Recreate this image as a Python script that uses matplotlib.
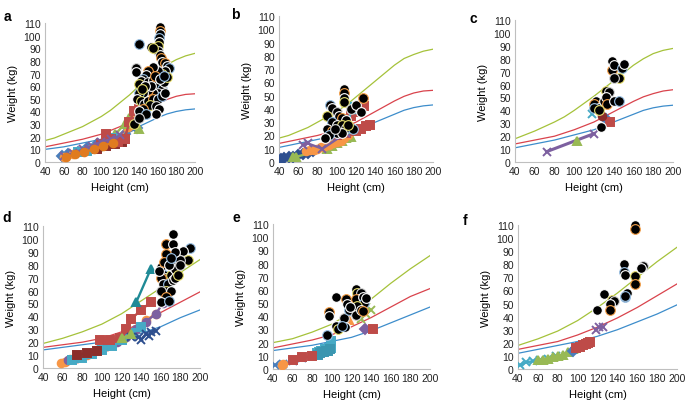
import matplotlib
matplotlib.use('Agg')
import matplotlib.pyplot as plt

plt.rcParams['font.family'] = ['Liberation Sans', 'DejaVu Sans']

# Reference curves (height 40..200 step 10)
ref_x = list(range(40, 201, 10))
ref_curves = {
    'a': ([17, 19, 22, 25, 28, 32, 36, 41, 47, 53, 60, 66, 72, 77, 81, 84, 86],
          [12, 13.5, 15, 16.5, 18, 20, 22, 25, 28, 32, 37, 42, 46, 49.5, 52, 53.5, 54],
          [10, 11, 12, 13.5, 15, 16.5, 18, 20, 22, 25, 28, 31.5, 35, 38, 40, 41.3, 42]),
    'b': ([18, 20, 23, 26, 30, 34, 38, 43, 49, 55, 61, 67, 73, 78, 81, 83.5, 85],
          [14, 15.5, 17, 18.5, 20, 22, 24, 27, 30, 34, 38, 42, 46, 49.5, 52, 53.5, 54],
          [11, 12.5, 14, 15.5, 17, 18.5, 20, 22, 24, 27, 30, 33, 36, 39, 41, 42.3, 43]),
    'c': ([18, 21, 24, 27.5, 31, 35, 40, 45.5, 51, 57, 63, 69, 75, 80, 84, 86.5, 88],
          [14, 15.5, 17, 18.5, 20, 22.5, 25, 28, 31, 35, 39, 43, 47, 50.5, 53, 55, 56],
          [11, 12.5, 14, 15.5, 17, 19, 21, 23, 25, 28, 31, 34, 37, 40, 42, 43.3, 44]),
    'd': ([19, 21, 23, 25.5, 28, 31, 34, 38, 42, 47, 52, 57, 62, 68, 74, 79, 84],
          [16, 17, 18, 19, 20, 21.5, 23, 25.5, 28, 31.5, 35, 39, 43, 47, 51, 55, 59],
          [14, 15, 16, 17, 18, 19, 20, 21.5, 23, 25, 27, 29.5, 32, 35.5, 39, 42, 45]),
    'e': ([20, 21.5, 23, 25.5, 28, 31, 34, 38.5, 43, 48, 53, 59, 65, 70.5, 76, 81, 86],
          [16, 17.5, 19, 20.5, 22, 24, 26, 29, 32, 35.5, 39, 43, 47, 51, 55, 58, 61],
          [14, 15, 16, 17, 18, 19.5, 21, 22.5, 24, 26.5, 29, 32, 35, 38, 41, 44, 47]),
    'f': ([18, 20.5, 23, 26, 29, 33, 37, 42, 47, 52.5, 58, 64, 70, 76, 82, 87.5, 93],
          [15, 16.5, 18, 19.5, 21, 23.5, 26, 29, 32, 35.5, 39, 43, 47, 51.5, 56, 60.5, 65],
          [12, 13.5, 15, 16.5, 18, 19.5, 21, 23, 25, 27.5, 30, 33, 36, 39, 42, 45.5, 49]),
}

# Individual growth trajectories: (x, y, colour, marker)
tracks = {
    'a': [
        ([58, 65, 75, 85, 95, 105, 115, 125, 138], [5, 6, 8, 11, 14, 16, 19, 22, 27], '#4A7EBB', 'D'),
        ([60, 70, 80, 90, 100, 110, 120, 128, 135], [4, 6, 9, 11, 13, 16, 20, 28, 35], '#F79646', 'o'),
        ([95, 105, 115, 125, 130, 140], [12, 15, 22, 30, 35, 26], '#98B954', '^'),
        ([75, 85, 95, 105, 115], [8, 9, 11, 14, 19], '#46AAC5', 's'),
        ([95, 105, 115, 122, 125], [10, 13, 14, 16, 18], '#8B2E2B', 's'),
        ([100, 105, 110, 118, 125, 130, 135, 140], [14, 22, 18, 16, 18, 32, 40, 45], '#BE4B48', 's'),
        ([60, 70, 80, 90, 100, 110, 120], [5, 7, 10, 13, 16, 18, 21], '#7D60A0', 'x'),
        ([62, 72, 82, 92, 102, 112], [4, 6, 8, 10, 13, 15], '#E07B20', 'o'),
    ],
    'b': [
        ([42, 45, 50, 55, 60, 65, 70, 75], [2, 3, 4, 4, 5, 6, 7, 8], '#2E4F8F', 'D'),
        ([55, 58, 90, 95, 100, 105, 110, 115], [4, 4, 10, 12, 14, 16, 18, 19], '#98B954', '^'),
        ([68, 72, 76, 80, 84, 88, 92, 96, 100, 104, 108, 112],
         [8, 9, 9, 10, 11, 12, 13, 14, 15, 16, 18, 20], '#F79646', 'o'),
        ([100, 110, 115, 120, 125, 128], [20, 22, 35, 38, 40, 42], '#BE4B48', 's'),
        ([120, 125, 130, 135], [23, 25, 27, 28], '#BE4B48', 's'),
        ([65, 70, 85, 110], [13, 14, 10, 22], '#7D60A0', 'x'),
        ([112, 115, 118], [25, 42, 40], '#46AAC5', 'o'),
    ],
    'c': [
        ([72, 120], [8, 22], '#7D60A0', 'x'),
        ([103], [16], '#98B954', '^'),
        ([118], [37], '#46AAC5', 'x'),
        ([132], [33], '#4A7EBB', 'D'),
        ([136], [31], '#BE4B48', 's'),
        ([128], [36], '#8B2E2B', 'o'),
    ],
    'd': [
        ([58, 62, 68, 75, 85, 95, 105, 115, 125, 135, 145, 155],
         [4, 5, 7, 8, 10, 14, 17, 21, 25, 30, 37, 42], '#F79646', 'o'),
        ([65, 75, 85, 95, 105, 115, 125, 135, 145, 155, 162, 165],
         [6, 8, 11, 14, 17, 20, 24, 30, 36, 42, 50, 55], '#7D60A0', 'o'),
        ([70, 80, 90, 100, 110, 120, 130, 140], [6, 8, 11, 14, 17, 22, 27, 32], '#46AAC5', 's'),
        ([98, 108, 118, 125, 130, 140, 150], [22, 22, 23, 30, 38, 45, 51], '#BE4B48', 's'),
        ([130, 138, 140, 145, 148, 150, 155], [24, 24, 22, 26, 25, 28, 29], '#2E4F8F', 'x'),
        ([75, 85, 95], [10, 12, 13], '#8B2E2B', 's'),
        ([120, 130], [23, 26], '#98B954', '^'),
        ([135, 150], [51, 77], '#1F8A96', '^'),
    ],
    'e': [
        ([85, 87, 89, 91, 93, 95, 97, 99, 99],
         [12, 13, 14, 14, 15, 15, 16, 16, 21], '#46AAC5', 's'),
        ([86, 88, 90, 92, 94, 96, 98], [11, 12, 13, 13, 14, 14, 15], '#3B96B0', 's'),
        ([42, 50, 60, 70, 80], [3, 4, 6, 8, 10], '#4A7EBB', 'x'),
        ([60, 70, 80], [7, 9, 10], '#BE4B48', 's'),
        ([49, 50], [3, 4], '#F79646', 'o'),
        ([134], [30], '#7D60A0', 'D'),
        ([142], [30], '#BE4B48', 's'),
        ([130, 128, 135, 140, 135], [38, 40, 42, 45, 47], '#98B954', 'x'),
        ([117], [37], '#F79646', '^'),
    ],
    'f': [
        ([42, 48, 55, 62, 70, 78], [3, 5, 6, 7, 8, 10], '#46AAC5', 'x'),
        ([60, 65, 70, 75, 80, 85, 90, 95], [7, 7, 8, 9, 10, 11, 13, 15], '#98B954', '^'),
        ([95, 98], [14, 16], '#4A7EBB', 'D'),
        ([98, 102, 105, 108, 110, 112], [16, 17, 18, 19, 20, 21], '#BE4B48', 's'),
        ([118, 122, 126], [30, 32, 32], '#7D60A0', 'x'),
    ],
}

# Black circles (later visits)
dots_x = {
    'a': [163, 163, 163, 162, 162, 161, 161, 163, 164, 165, 140, 153, 155, 137, 137,
          168, 170, 172, 168, 165, 160, 155, 150, 148, 145, 142, 140, 150, 155, 158,
          162, 165, 167, 170, 160, 155, 150, 145, 140, 138, 142, 146, 150, 155, 160,
          165, 168, 152, 158, 162, 145, 140, 148, 158, 135, 140, 153, 157, 163, 167, 147, 143],
    'b': [108, 108, 108, 93, 95, 90, 100, 102, 105, 110, 95, 100, 105, 110, 90, 95,
          100, 92, 88, 108, 115, 120, 127, 125, 117, 105, 112, 98],
    'c': [138, 138, 140, 148, 150, 145, 140, 122, 120, 125, 120, 130, 132, 135, 132,
          133, 140, 145, 127, 125],
    'd': [172, 165, 172, 190, 183, 188, 180, 175, 165, 160, 163, 165, 170, 172, 175,
          160, 162, 167, 172, 165, 160, 170, 165, 160, 168, 175, 178, 180, 158, 163, 168, 170],
    'e': [104, 97, 97, 95, 104, 106, 112, 113, 114, 115, 117, 125, 126, 130, 128,
          125, 132, 133, 135, 126, 125, 130, 132, 118, 110],
    'f': [158, 158, 147, 147, 148, 158, 166, 164, 158, 150, 148, 127, 135, 137, 133,
          133, 120, 148],
}
dots_y = {
    'a': [107, 104, 101, 98, 95, 92, 88, 85, 82, 79, 93, 91, 90, 74, 71,
          78, 76, 74, 72, 70, 72, 75, 72, 69, 66, 64, 62, 63, 65, 62,
          60, 58, 63, 67, 55, 55, 57, 55, 55, 50, 48, 46, 48, 50, 50,
          52, 55, 45, 44, 42, 42, 40, 38, 38, 30, 35, 60, 68, 66, 68, 60, 58],
    'b': [55, 52, 48, 43, 41, 35, 38, 35, 33, 32, 30, 28, 28, 26, 25, 23,
          22, 20, 18, 45, 40, 43, 48, 38, 25, 22, 28, 25],
    'c': [78, 71, 75, 73, 76, 65, 65, 47, 45, 42, 42, 47, 55, 54, 50,
          45, 47, 47, 27, 40],
    'd': [104, 96, 96, 93, 91, 84, 84, 90, 88, 78, 72, 70, 72, 78, 77,
          70, 65, 65, 68, 60, 60, 60, 55, 51, 52, 70, 72, 80, 75, 82, 80, 85],
    'e': [55, 43, 40, 26, 33, 30, 39, 32, 53, 49, 45, 61, 58, 58, 53,
          53, 55, 50, 54, 48, 41, 45, 44, 47, 33],
    'f': [110, 107, 80, 74, 72, 71, 79, 77, 65, 58, 55, 57, 53, 52, 50,
          45, 45, 56],
}

edge_cycle = ['white', '#F7A24B', 'white', '#9DC3E6', 'white', '#E8E070', '#D9D9D9']

# panel positions in figure fractions: left, bottom, width, height
boxes = {
    'a': [0.0657, 0.5945, 0.219, 0.3458],
    'b': [0.4073, 0.5945, 0.2248, 0.3632],
    'c': [0.7518, 0.5945, 0.2307, 0.3532],
    'd': [0.0628, 0.0821, 0.2292, 0.3532],
    'e': [0.3985, 0.0796, 0.2292, 0.3607],
    'f': [0.7562, 0.0796, 0.2321, 0.3582],
}
letter_pos = {'a': (0.005, 0.975), 'b': (0.337, 0.98), 'c': (0.686, 0.97),
              'd': (0.004, 0.475), 'e': (0.339, 0.475), 'f': (0.676, 0.468)}

fig = plt.figure(figsize=(6.85, 4.02), dpi=100)
for key in ['a', 'b', 'c', 'd', 'e', 'f']:
    ax = fig.add_axes(boxes[key])
    g, r, b = ref_curves[key]
    ax.plot(ref_x, g, color='#A5C23A', lw=0.9, zorder=2)
    ax.plot(ref_x, r, color='#D9434C', lw=0.9, zorder=2)
    ax.plot(ref_x, b, color='#3D8DCB', lw=0.9, zorder=2)

    for tx, ty, col, mk in tracks[key]:
        lw = 2.2 if key == 'c' else 1.7
        ax.plot(tx, ty, color=col, lw=lw, marker=mk, ms=5.5, mew=1.4,
                mec=col, zorder=3)

    xs, ys = dots_x[key], dots_y[key]
    for i in range(len(xs)):
        ax.plot(xs[i], ys[i], 'o', color='black', ms=7,
                mec=edge_cycle[i % len(edge_cycle)], mew=0.8, zorder=4,
                clip_on=False)

    ax.set_xlim(40, 200)
    ax.set_ylim(0, 110)
    ax.set_xticks(range(40, 201, 20))
    ax.set_yticks(range(0, 111, 10))
    ax.tick_params(length=0, labelsize=7.5, pad=3, colors='#222222')
    for s in ['top', 'right']:
        ax.spines[s].set_visible(False)
    for s in ['left', 'bottom']:
        ax.spines[s].set_color('#BFBFBF')
        ax.spines[s].set_linewidth(0.8)
    ax.set_xlabel('Height (cm)', fontsize=8, labelpad=4)
    ax.set_ylabel('Weight (kg)', fontsize=8, labelpad=4)
    fig.text(letter_pos[key][0], letter_pos[key][1], key, fontsize=10,
             fontweight='bold', va='top')

fig.savefig('out.png', dpi=100)
